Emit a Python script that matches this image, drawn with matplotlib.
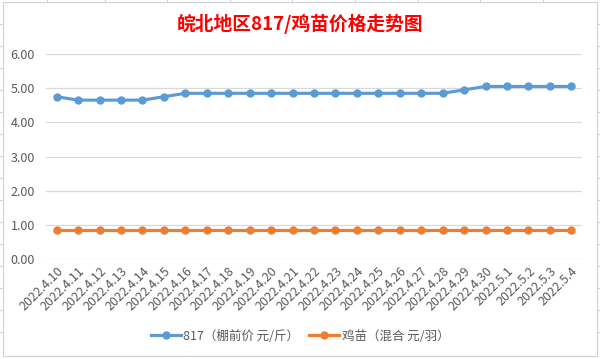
import matplotlib
matplotlib.use('Agg')
import matplotlib.pyplot as plt
from matplotlib.patches import Rectangle

plt.rcParams['font.family'] = ['Noto Sans CJK SC', 'DejaVu Sans']

dates = ['2022.4.10', '2022.4.11', '2022.4.12', '2022.4.13', '2022.4.14', '2022.4.15',
         '2022.4.16', '2022.4.17', '2022.4.18', '2022.4.19', '2022.4.20', '2022.4.21',
         '2022.4.22', '2022.4.23', '2022.4.24', '2022.4.25', '2022.4.26', '2022.4.27',
         '2022.4.28', '2022.4.29', '2022.4.30', '2022.5.1', '2022.5.2', '2022.5.3', '2022.5.4']
preis_817 = [4.75, 4.65, 4.65, 4.65, 4.65, 4.75, 4.85, 4.85, 4.85, 4.85, 4.85, 4.85,
             4.85, 4.85, 4.85, 4.85, 4.85, 4.85, 4.85, 4.95, 5.05, 5.05, 5.05, 5.05, 5.05]
preis_jimiao = [0.85] * 25

label_817 = '817（棚前价 元/斤）'
label_jimiao = '鸡苗（混合 元/羽）'
titel = '皖北地区817/鸡苗价格走势图'

fig = plt.figure(figsize=(6, 3.59), dpi=100)

# Excel-Zellraster und Diagrammrahmen
for xl in [47, 105, 167, 230, 292, 355, 418, 480, 543]:
    fig.add_artist(plt.Line2D([xl / 600, xl / 600], [1 - 2 / 359, 1], color='#d4d4dc', lw=0.8))
for yl in [24, 46, 68, 90, 112, 134, 156, 178, 200, 222, 244, 266, 288, 310, 332]:
    fig.add_artist(plt.Line2D([0, 3 / 600], [1 - yl / 359, 1 - yl / 359], color='#d4d4dc', lw=0.8))
    fig.add_artist(plt.Line2D([597 / 600, 1], [1 - yl / 359, 1 - yl / 359], color='#d4d4dc', lw=0.8))
fig.add_artist(Rectangle((3 / 600, 3 / 359), 594 / 600, 354 / 359, transform=fig.transFigure,
                         fill=False, edgecolor='#d0d0d8', lw=0.8))

ax = fig.add_axes([46 / 600, 1 - 259 / 359, 536 / 600, 205 / 359])
x = range(len(dates))
ax.plot(x, preis_817, '-o', color='#5B9BD5', lw=2.25, markersize=5, label=label_817)
ax.plot(x, preis_jimiao, '-o', color='#ED7D31', lw=2.25, markersize=5, label=label_jimiao)

ax.set_xlim(-0.5, len(dates) - 0.5)
ax.set_ylim(0, 6)
ax.set_yticks([0, 1, 2, 3, 4, 5, 6])
ax.set_yticklabels(['%.2f' % v for v in [0, 1, 2, 3, 4, 5, 6]])
ax.grid(axis='y', color='#d9d9d9', lw=0.9)
ax.set_axisbelow(True)
for s in ax.spines.values():
    s.set_visible(False)
ax.set_xticks(list(x))
ax.set_xticklabels(dates, rotation=45, ha='right', rotation_mode='anchor')
ax.tick_params(axis='both', length=0, labelsize=9, colors='#595959')
ax.tick_params(axis='x', pad=4)
ax.tick_params(axis='y', pad=8)

fig.text(0.5, 1 - 24 / 359, titel, ha='center', va='center', color='red',
         fontsize=13.5, fontweight='bold')

fig.legend(loc='center', bbox_to_anchor=(0.5, 1 - 336 / 359), ncol=2, frameon=False,
           fontsize=9, labelcolor='#595959', handlelength=2.4, handletextpad=0.2,
           columnspacing=0.8)

fig.savefig('out.png', dpi=100)
